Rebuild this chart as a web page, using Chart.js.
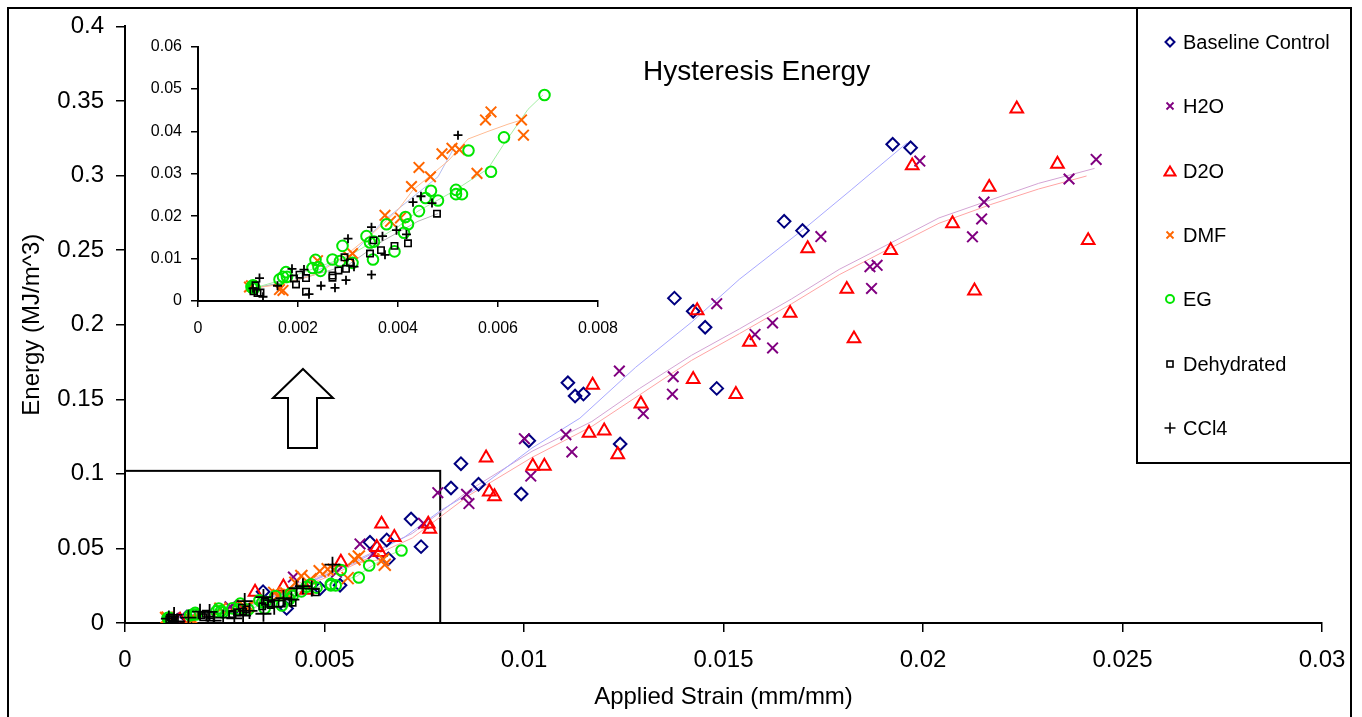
<!DOCTYPE html>
<html>
<head>
<meta charset="utf-8">
<title>Hysteresis Energy</title>
<script src="https://cdn.jsdelivr.net/npm/chart.js@4.4.1/dist/chart.umd.min.js"></script>
<style>
  html, body { margin: 0; padding: 0; background: #fff; overflow: hidden; }
  body { width: 1362px; height: 717px; position: relative; font-family: 'Liberation Sans', Arial, sans-serif; }
  #main { position: absolute; left: 0; top: 0; }
  #inset { position: absolute; left: 130px; top: 28px; }
  .frame { position: absolute; left: 7px; top: 7px; width: 1345px; height: 740px; border: 2px solid #000; box-sizing: border-box; pointer-events: none; }
  .title { position: absolute; left: 643px; top: 57px; font-size: 28px; line-height: 28px; color: #000; white-space: nowrap; }
  .legend { position: absolute; left: 1136px; top: 7px; width: 216px; height: 457px; border: 2px solid #000; box-sizing: border-box; background: #fff; }
  .item { position: absolute; left: 0; height: 24px; line-height: 24px; font-size: 20px; white-space: nowrap; }
  .item svg { position: absolute; left: 25px; top: 5px; }
  .item span { position: absolute; left: 45px; top: 0; }
  .arrow { position: absolute; left: 0; top: 0; pointer-events: none; }
</style>
</head>
<body>
<canvas id="main" width="1362" height="717"></canvas>
<canvas id="inset" width="500" height="322"></canvas>
<div class="frame"></div>
<div class="title">Hysteresis Energy</div>
<svg class="arrow" width="400" height="470">
  <polygon points="303,369 333,398 317,398 317,448 288,448 288,398 273,398" fill="#fff" stroke="#000" stroke-width="2"/>
</svg>
<div class="legend" id="legend"></div>

<script>
// series names, in legend order
const seriesNames = ['Baseline Control', 'H2O', 'D2O', 'DMF', 'EG', 'Dehydrated', 'CCl4'];

// [strain (mm/mm), energy (MJ/m^3)]
const baseline = [[0.00113,0.0010],[0.00155,0.0040],[0.0028,0.0110],[0.00346,0.0210],[0.00405,0.0098],[0.00489,0.0231],
  [0.00539,0.0253],[0.00614,0.0541],[0.00656,0.0557],[0.00660,0.0430],[0.00717,0.0697],[0.00742,0.0512],[0.00817,0.0905],
  [0.00842,0.1068],[0.00886,0.0930],[0.00993,0.0865],[0.01012,0.1222],[0.01110,0.1611],[0.01128,0.1522],[0.01149,0.1535],
  [0.01241,0.1200],[0.01377,0.2178],[0.01424,0.2090],[0.01454,0.1983],[0.01483,0.1573],[0.01652,0.2693],[0.01698,0.2631],
  [0.01924,0.3210],[0.01969,0.3186]];
const h2o = [[0.00122,0.0033],[0.00263,0.0109],[0.00422,0.0308],[0.0053,0.0340],[0.00589,0.0530],[0.00622,0.0464],
  [0.00748,0.0668],[0.00784,0.0874],[0.00856,0.0863],[0.00862,0.0801],[0.01001,0.1236],[0.01017,0.0985],[0.01105,0.1263],
  [0.01120,0.1147],[0.01239,0.1689],[0.01299,0.1404],[0.01374,0.1651],[0.01372,0.1534],[0.01483,0.2141],[0.01579,0.1935],
  [0.01623,0.2012],[0.01623,0.1844],[0.01744,0.2591],[0.01867,0.2389],[0.01885,0.2398],[0.01871,0.2243],[0.01992,0.3097],
  [0.02124,0.2589],[0.02147,0.2709],[0.02153,0.2822],[0.02366,0.2977],[0.02434,0.3108]];
const d2o = [[0.00138,0.0020],[0.00282,0.0106],[0.00326,0.0208],[0.00397,0.0242],[0.00455,0.0220],[0.00541,0.0408],
  [0.00631,0.0508],[0.00639,0.0474],[0.00643,0.0664],[0.00675,0.0575],[0.00760,0.0664],[0.00764,0.0630],[0.00905,0.1107],
  [0.00913,0.0879],[0.00926,0.0848],[0.01022,0.1052],[0.01051,0.1052],[0.01163,0.1273],[0.01172,0.1595],[0.01201,0.1289],
  [0.01235,0.1129],[0.01293,0.1469],[0.01424,0.1634],[0.01434,0.2095],[0.01531,0.1533],[0.01565,0.1884],[0.01667,0.2077],
  [0.01711,0.2511],[0.01809,0.2238],[0.01827,0.1906],[0.01919,0.2498],[0.01973,0.3066],[0.02074,0.2678],[0.02129,0.2227],
  [0.02166,0.2922],[0.02235,0.3448],[0.02337,0.3077],[0.02414,0.2565]];
const dmf = [[0.00586,0.0446],[0.00575,0.0427],[0.00647,0.0427],[0.00651,0.0391],[0.00508,0.0360],[0.00523,0.0357],
  [0.00488,0.0347],[0.00442,0.0315],[0.00465,0.0293],[0.00558,0.0301],[0.00427,0.0270],[0.00374,0.0202],[0.00385,0.0188],
  [0.00405,0.0196],[0.00309,0.0112],[0.00302,0.0104],[0.00239,0.0095],[0.00163,0.0027],[0.00170,0.0025],[0.00103,0.0033],
  [0.00107,0.0036]];
const eg = [[0.00693,0.0486],[0.00612,0.0386],[0.00541,0.0355],[0.00586,0.0305],[0.00516,0.0262],[0.00516,0.0252],
  [0.00528,0.0252],[0.00466,0.0260],[0.00480,0.0237],[0.00455,0.0243],[0.00442,0.0212],[0.00415,0.0198],[0.00420,0.0181],
  [0.00412,0.0161],[0.00377,0.0181],[0.00393,0.0117],[0.00350,0.0098],[0.00337,0.0153],[0.00344,0.0138],[0.00352,0.0140],
  [0.00289,0.0130],[0.00269,0.0098],[0.00284,0.0094],[0.00309,0.0090],[0.00235,0.0097],[0.00241,0.0080],[0.00229,0.0078],
  [0.00245,0.0071],[0.00176,0.0068],[0.00170,0.0057],[0.00163,0.0051],[0.00178,0.0057],[0.00110,0.0037],[0.00110,0.0030],
  [0.00107,0.0033],[0.00113,0.0031]];
const dehydrated = [[0.00478,0.0206],[0.00420,0.0136],[0.00393,0.0130],[0.00366,0.0120],[0.00351,0.0143],[0.00344,0.0112],
  [0.00293,0.0103],[0.00304,0.0091],[0.00296,0.0076],[0.00281,0.0072],[0.00269,0.0055],[0.00269,0.0060],[0.00216,0.0054],
  [0.00203,0.0062],[0.00192,0.0053],[0.00196,0.0039],[0.00216,0.0022],[0.00115,0.0037],[0.00119,0.0019],[0.00125,0.0020],
  [0.00111,0.0023]];
const ccl4 = [[0.00520,0.0391],[0.00446,0.0247],[0.00430,0.0233],[0.00468,0.0231],[0.00347,0.0174],[0.00369,0.0153],
  [0.00397,0.0167],[0.00417,0.0157],[0.00374,0.0109],[0.00300,0.0147],[0.00312,0.0081],[0.00347,0.0062],[0.00296,0.0049],
  [0.00274,0.0031],[0.00246,0.0036],[0.00188,0.0076],[0.00212,0.0074],[0.00159,0.0036],[0.00222,0.0016],[0.00123,0.0054],
  [0.00130,0.0010],[0.00110,0.0030]];

// moving-average trend lines
const baselineTrend = [[0.0011,0.003],[0.0024,0.0087],[0.0040,0.0198],[0.0057,0.0397],[0.0070,0.0575],[0.0079,0.0752],
  [0.0090,0.0930],[0.0102,0.1173],[0.0114,0.1373],[0.0128,0.1715],[0.0142,0.2017],[0.0154,0.2305],[0.0171,0.2660],
  [0.0182,0.2904],[0.0196,0.3219]];
const h2oTrend = [[0.0011,0.003],[0.0030,0.012],[0.0050,0.032],[0.0072,0.0600],[0.0086,0.0885],[0.0102,0.1151],
  [0.0117,0.1351],[0.0129,0.1573],[0.0142,0.1795],[0.0154,0.1972],[0.0167,0.2172],[0.0179,0.2371],[0.0192,0.2549],
  [0.0204,0.2716],[0.0217,0.2837],[0.0229,0.2948],[0.0243,0.3048]];
const d2oTrend = [[0.0011,0.003],[0.0030,0.011],[0.0050,0.030],[0.0072,0.0570],[0.0086,0.0852],[0.0102,0.1110],
  [0.0117,0.1318],[0.0129,0.1530],[0.0142,0.1761],[0.0154,0.1940],[0.0167,0.2139],[0.0179,0.2335],[0.0192,0.2516],
  [0.0204,0.2680],[0.0217,0.2806],[0.0229,0.2910],[0.0241,0.2997]];
const dmfTrend = [[0.0011,0.0030],[0.0017,0.0040],[0.0024,0.0065],[0.0030,0.0112],[0.0035,0.0160],[0.0040,0.0215],
  [0.0043,0.0262],[0.0050,0.0330],[0.0054,0.0382],[0.0058,0.0400],[0.0062,0.0417],[0.0065,0.0428]];
const egTrend = [[0.0011,0.0030],[0.0017,0.0050],[0.0024,0.0080],[0.0030,0.0105],[0.0035,0.0140],[0.0040,0.0175],
  [0.0044,0.0212],[0.0051,0.0258],[0.0058,0.0312],[0.0061,0.0367],[0.0066,0.0452],[0.0069,0.0486]];
const dehydratedTrend = [[0.0011,0.003],[0.0020,0.005],[0.0030,0.0085],[0.0037,0.0142],[0.0044,0.0188],[0.0048,0.0206]];
const ccl4Trend = [[0.0011,0.003],[0.0020,0.005],[0.0031,0.0112],[0.0037,0.0188],[0.0044,0.0255],[0.0048,0.0293],[0.0051,0.0357]];

const xTickLabels = ['0', '0.005', '0.01', '0.015', '0.02', '0.025', '0.03'];
const yTickLabels = ['0', '0.05', '0.1', '0.15', '0.2', '0.25', '0.3', '0.35', '0.4'];
const insetXTickLabels = ['0', '0.002', '0.004', '0.006', '0.008'];
const insetYTickLabels = ['0', '0.01', '0.02', '0.03', '0.04', '0.05', '0.06'];

// region blown up in the inset
const zoomBox = { x: 0.0079, y: 0.102 };

const FONT = "'Liberation Sans', Arial, sans-serif";
const pts = arr => arr.map(([x, y]) => ({ x, y }));

const styles = [
  { color: '#000080', trend: '#a8a8ff', shape: 'rectRot',  r: 6.3, w: 2 },
  { color: '#800080', trend: '#d4a4d4', shape: 'crossRot', r: 7.5, w: 2 },
  { color: '#ff0000', trend: '#ffa4a4', shape: 'triangle', r: 7.3, w: 2 },
  { color: '#ff6600', trend: '#ffbc94', shape: 'crossRot', r: 7.5, w: 2 },
  { color: '#00e600', trend: '#a4eea4', shape: 'circle',   r: 5.3, w: 2 },
  { color: '#000000', trend: '#b4b4b4', shape: 'rect',     r: 4.5, w: 1.6 },
  { color: '#000000', trend: '#b4bcee', shape: 'cross',    r: 4.5, w: 1.8 }
];
const points = [baseline, h2o, d2o, dmf, eg, dehydrated, ccl4];
const trends = [baselineTrend, h2oTrend, d2oTrend, dmfTrend, egTrend, dehydratedTrend, ccl4Trend];

function markerSet(i, sizeOverride) {
  const s = styles[i];
  return {
    label: seriesNames[i],
    data: pts(points[i]),
    pointStyle: s.shape,
    pointRadius: sizeOverride || s.r,
    borderColor: s.color,
    backgroundColor: 'rgba(0,0,0,0)',
    borderWidth: s.w,
    order: 10 - i
  };
}
function trendSet(i) {
  return {
    label: seriesNames[i] + ' trend',
    data: pts(trends[i]),
    showLine: true,
    borderColor: styles[i].trend,
    borderWidth: 1,
    pointRadius: 0,
    order: 100
  };
}

function axis(min, max, step, labels, opts) {
  return {
    type: 'linear', min, max,
    border: { display: true, color: '#000', width: 2 },
    grid: { drawOnChartArea: false, drawTicks: true, tickLength: opts.tick, color: '#000', lineWidth: 1.5 },
    ticks: {
      stepSize: step, color: '#000', padding: opts.pad, maxRotation: 0, autoSkip: false,
      font: { family: FONT, size: opts.font },
      callback: v => labels[Math.round(v / step)]
    },
    afterFit: opts.fit
  };
}

const zoomBoxPlugin = {
  id: 'zoomBox',
  beforeDatasetsDraw(chart) {
    const { ctx, scales: { x, y } } = chart;
    const l = x.getPixelForValue(0), r = x.getPixelForValue(zoomBox.x);
    const t = y.getPixelForValue(zoomBox.y), b = y.getPixelForValue(0);
    ctx.save();
    ctx.strokeStyle = '#000';
    ctx.lineWidth = 2;
    ctx.strokeRect(l, t, r - l, b - t);
    ctx.restore();
  }
};

// main chart
const mainX = axis(0, 0.03, 0.005, xTickLabels, { tick: 9, pad: 14, font: 24, fit: s => { s.height = 94; } });
mainX.title = { display: true, text: 'Applied Strain (mm/mm)', color: '#000', font: { family: FONT, size: 24 }, padding: { top: 0, bottom: 5 } };
const mainY = axis(0, 0.4, 0.05, yTickLabels, { tick: 9, pad: 12, font: 24, fit: s => { s.width = 125; } });
mainY.title = { display: true, text: 'Energy (MJ/m^3)', color: '#000', font: { family: FONT, size: 24 }, padding: { top: 18, bottom: 0 } };

const mainSizes = [null, null, null, 8.5, 5.3, 4.5, 8];
new Chart(document.getElementById('main'), {
  type: 'scatter',
  data: { datasets: [...points.map((_, i) => markerSet(i, mainSizes[i])), ...trends.map((_, i) => trendSet(i))] },
  options: {
    responsive: false, animation: false,
    layout: { padding: { left: 0, right: 40, top: 24, bottom: 0 } },
    plugins: { legend: { display: false }, tooltip: { enabled: false } },
    scales: { x: mainX, y: mainY }
  },
  plugins: [zoomBoxPlugin]
});

// inset: the low-strain solvents only
const insetSeries = [3, 4, 5, 6];
new Chart(document.getElementById('inset'), {
  type: 'scatter',
  data: { datasets: [...insetSeries.map(i => markerSet(i)), ...insetSeries.map(i => trendSet(i))] },
  options: {
    responsive: false, animation: false,
    layout: { padding: { left: 0, right: 30, top: 15, bottom: 0 } },
    plugins: { legend: { display: false }, tooltip: { enabled: false } },
    scales: {
      x: axis(0, 0.008, 0.002, insetXTickLabels, { tick: 6, pad: 12, font: 16, fit: s => { s.height = 49; } }),
      y: axis(0, 0.06, 0.01, insetYTickLabels, { tick: 7, pad: 9, font: 16, fit: s => { s.width = 68; } })
    }
  }
});

// legend box
const legendMarks = [
  '<polygon points="7,2.5 11.5,7 7,11.5 2.5,7" fill="none" stroke="#000080" stroke-width="2"/>',
  '<path d="M3.5,3.5 L10.5,10.5 M10.5,3.5 L3.5,10.5" stroke="#800080" stroke-width="1.8"/>',
  '<polygon points="7,2.5 12.5,11.5 1.5,11.5" fill="none" stroke="#ff0000" stroke-width="2"/>',
  '<path d="M3.5,3.5 L10.5,10.5 M10.5,3.5 L3.5,10.5" stroke="#ff6600" stroke-width="1.8"/>',
  '<circle cx="7" cy="7" r="4" fill="none" stroke="#00e600" stroke-width="2"/>',
  '<rect x="4" y="4" width="6" height="6" fill="none" stroke="#000" stroke-width="1.6"/>',
  '<path d="M7,1.5 L7,12.5 M1.5,7 L12.5,7" stroke="#000" stroke-width="1.6"/>'
];
const legendTop = 40, legendStep = 64.3;
const legend = document.getElementById('legend');
seriesNames.forEach((name, i) => {
  const row = document.createElement('div');
  row.className = 'item';
  row.style.top = (legendTop + i * legendStep - 12 - 7) + 'px';
  row.innerHTML = '<svg width="14" height="14">' + legendMarks[i] + '</svg><span>' + name + '</span>';
  legend.appendChild(row);
});
</script>
</body>
</html>
